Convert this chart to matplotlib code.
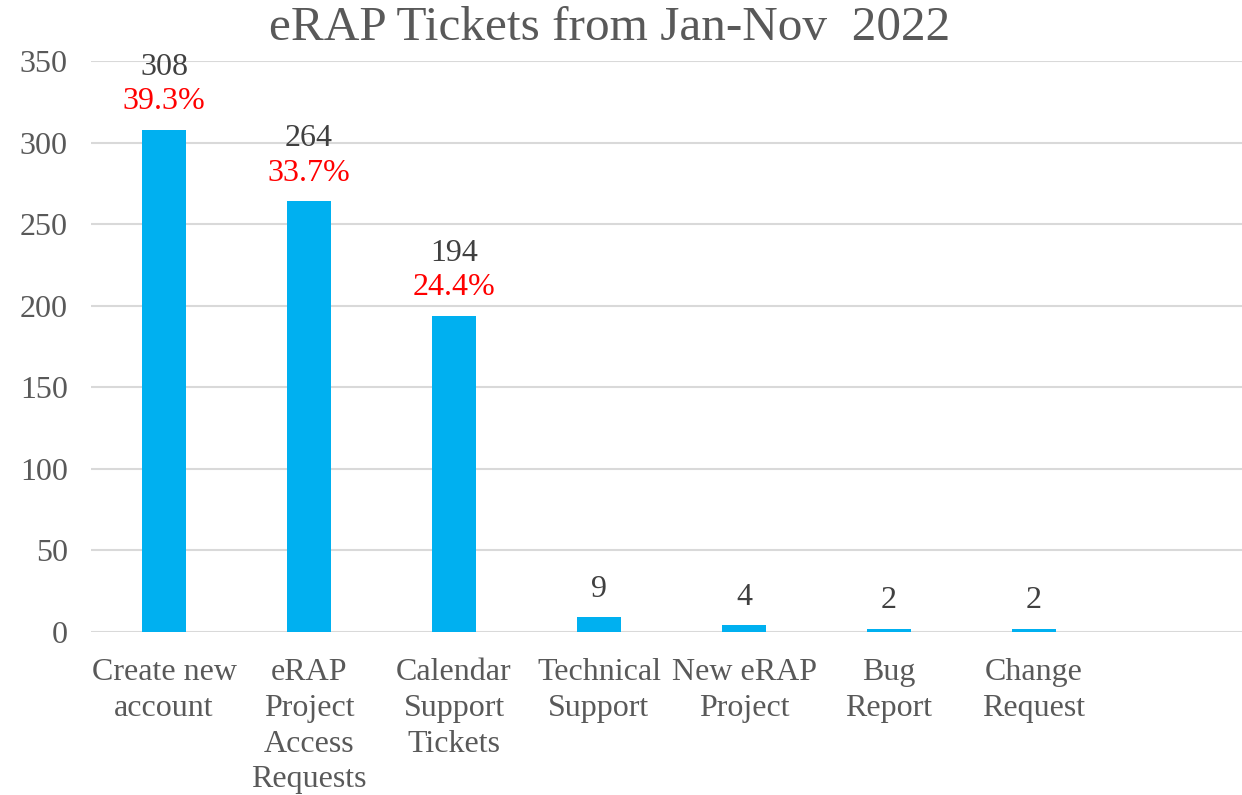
import matplotlib.pyplot as plt
import numpy as np

plt.rcParams['font.family'] = ['Liberation Serif', 'DejaVu Serif']

categories = ['Create new\naccount', 'eRAP\nProject\nAccess\nRequests', 'Calendar\nSupport\nTickets',
              'Technical\nSupport', 'New eRAP\nProject', 'Bug\nReport', 'Change\nRequest']
tickets = [308, 264, 194, 9, 4, 2, 2]
percents = ['39.3%', '33.7%', '24.4%', '', '', '', '']

fig = plt.figure(figsize=(12.42, 7.95), dpi=100)
ax = fig.add_axes([91.5 / 1242, 1 - 632 / 795, 1150.5 / 1242, 571 / 795])

x = np.arange(len(categories))
bars = ax.bar(x, tickets, width=0.31, color='#00B0F0', zorder=3)

ax.set_ylim(0, 350)
ax.set_xlim(-0.5, -0.5 + 1150.5 / 145)
ax.set_yticks(range(0, 351, 50))
ax.set_xticks(x)
ax.set_xticklabels(categories, linespacing=1.3)
ax.tick_params(axis='both', length=0, labelsize=23, colors='#595959')
ax.tick_params(axis='x', pad=19)
ax.tick_params(axis='y', pad=17)
ax.grid(axis='y', color='#D9D9D9', linewidth=1.5, zorder=0)
for s in ax.spines.values():
    s.set_visible(False)

for xi, v, p in zip(x, tickets, percents):
    if p:
        ax.annotate(p, (xi, v), xytext=(0, 20), textcoords='offset points',
                    ha='center', va='center', fontsize=23, color='red')
        ax.annotate(str(v), (xi, v), xytext=(0, 45), textcoords='offset points',
                    ha='center', va='center', fontsize=23, color='#404040')
    else:
        ax.annotate(str(v), (xi, v), xytext=(0, 20), textcoords='offset points',
                    ha='center', va='center', fontsize=23, color='#404040')

fig.text(610 / 1242, 1 - 28 / 795, 'eRAP Tickets from Jan-Nov  2022', ha='center', va='center',
         fontsize=35.5, color='#595959')

fig.savefig('out.png', dpi=100)
